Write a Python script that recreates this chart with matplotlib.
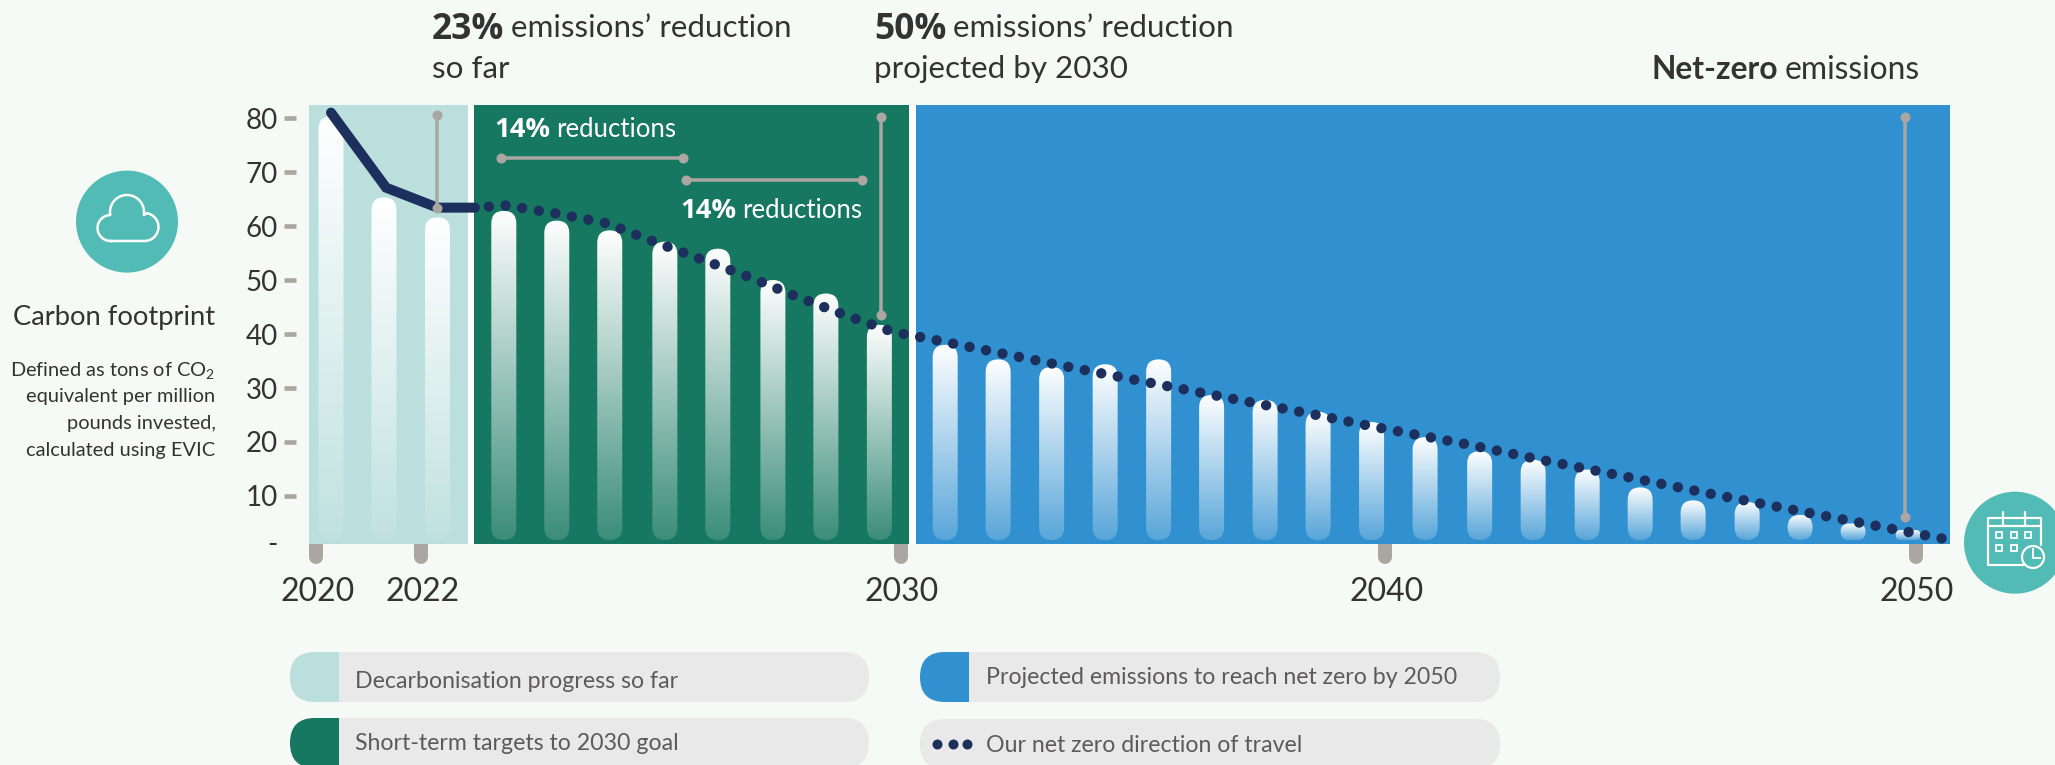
import numpy as np
import matplotlib
matplotlib.use("Agg")
import matplotlib.pyplot as plt
from matplotlib.patches import FancyBboxPatch, Circle, Rectangle

plt.rcParams['font.family'] = ['Lato', 'DejaVu Sans']
plt.rcParams['mathtext.default'] = 'regular'
plt.rcParams['lines.scale_dashes'] = False

# ---------- data ----------
progress_slots = [0.00, 0.99, 1.99]
progress_values = [80.3, 65.3, 61.6]
target_slots = [3.23, 4.22, 5.21, 6.24, 7.23, 8.26, 9.25, 10.25]
target_values = [62.8, 61.0, 59.2, 57.1, 55.8, 50.0, 47.5, 41.7]
projected_slots = [11.48, 12.47, 13.47, 14.47, 15.47, 16.46, 17.46, 18.45, 19.45, 20.45,
                   21.47, 22.47, 23.48, 24.47, 25.46, 26.47, 27.46, 28.45, 29.48]
projected_values = [38.0, 35.3, 33.9, 34.4, 35.3, 28.7, 27.8, 25.6, 23.7, 20.9,
                    18.3, 16.7, 14.9, 11.6, 9.2, 8.9, 6.5, 4.9, 3.7]
solid_x = [0.00, 1.03, 1.99, 2.69]
solid_y = [81.0, 67.1, 63.4, 63.4]
dotted_x = [2.95, 3.27, 4.22, 5.16, 6.04, 6.93, 7.83, 8.71, 9.61, 10.50, 11.14, 12.69,
            13.94, 15.50, 16.75, 18.32, 19.56, 21.12, 22.67, 24.24, 25.79, 27.30, 28.92, 30.18]
dotted_y = [63.6, 63.8, 62.3, 60.5, 57.1, 53.8, 50.5, 46.9, 43.5, 40.4, 39.2, 36.1,
            33.6, 30.6, 28.2, 25.2, 22.7, 19.8, 16.6, 13.5, 10.4, 7.5, 4.4, 2.0]
year_labels = ['2020', '2022', '2030', '2040', '2050']
year_slots = [-0.28, 1.69, 10.65, 19.70, 29.62]
y_tick_values = [1.3, 10, 20, 30, 40, 50, 60, 70, 80]
y_tick_labels = ['-', '10', '20', '30', '40', '50', '60', '70', '80']

BG = '#f6faf6'; LIGHT = '#bbdfdd'; GREEN = '#167860'; BLUE = '#3090d0'
NAVY = '#1d2f5c'; GREY = '#aba6a2'; TEAL = '#52bbb5'; DARK = '#333333'
PILL = '#e8e9e8'; LEG = '#5c5a5a'

W, H = 2055, 765
fig = plt.figure(figsize=(W/100, H/100), dpi=100, facecolor=BG)
ax = fig.add_axes([309/W, 1-544/H, (1950-309)/W, (544-105)/H])
ax.patch.set_visible(False)
XLIM = ((309-331)/53.5, (1950-331)/53.5)
YLIM = (1.11, 82.41)
PXX, PXY = 53.5, 5.4
def ux(px): return (px-331)/PXX
def lw(px): return px*0.72

# panels
ax.axvspan(ux(468), ux(916), color='white', lw=0, zorder=0.5)
ax.axvspan(ux(309), ux(468), color=LIGHT, lw=0, zorder=1)
ax.axvspan(ux(474), ux(909), color=GREEN, lw=0, zorder=1)
ax.axvspan(ux(916), ux(1950), color=BLUE, lw=0, zorder=1)

# x tick capsules (sit under the panels)
for s in year_slots:
    ax.plot([s, s], [3, -1.39], color=GREY, lw=lw(14), solid_capstyle='round', clip_on=False, zorder=0.2)

# gradient capsule bars
BOTTOM = 1.85
def bars(slots, values, a_bottom):
    for s, v in zip(slots, values):
        h_px = (v-BOTTOM)*PXY
        r_px = min(12.5, h_px/2)
        rx = r_px/PXX
        patch = FancyBboxPatch((s-12.5/PXX, BOTTOM), 25/PXX, v-BOTTOM,
                               boxstyle=f"round,pad=0,rounding_size={rx}",
                               mutation_aspect=PXX/PXY, transform=ax.transData,
                               fc='none', ec='none')
        ax.add_patch(patch)
        a = np.linspace(1, a_bottom, 256).reshape(-1, 1)
        rgba = np.ones((256, 1, 4)); rgba[..., 3] = a
        im = ax.imshow(rgba, extent=(s-0.3, s+0.3, BOTTOM, v), origin='upper',
                       aspect='auto', zorder=2, interpolation='bilinear')
        im.set_clip_path(patch)
bars(progress_slots, progress_values, 0.08)
bars(target_slots, target_values, 0.16)
bars(projected_slots, projected_values, 0.2)

# direction of travel
ax.plot(solid_x, solid_y, color=NAVY, lw=lw(10), solid_capstyle='round', solid_joinstyle='miter',
        zorder=4, clip_on=False)
ax.plot(dotted_x, dotted_y, color=NAVY, lw=lw(10.4), linestyle=(0, (0.01, 12.08)),
        dash_capstyle='round', zorder=4, clip_on=False)

# annotation rules
def rule(x0, y0, x1, y1):
    ax.plot([ux(x0), ux(x1)], [80-(y0-118)/PXY, 80-(y1-118)/PXY], color=GREY, lw=lw(3.5),
            marker='o', ms=lw(10), mew=0, zorder=5)
rule(437, 115, 437, 208)
rule(881, 117, 881, 315)
rule(1905, 117, 1905, 517)
rule(501, 158.4, 683, 158.4)
rule(685.6, 180, 861.6, 180)

ax.set_xlim(*XLIM); ax.set_ylim(*YLIM)
for sp in ax.spines.values():
    sp.set_visible(False)
ax.spines['left'].set_position(('outward', 13*0.72))
ax.set_yticks(y_tick_values, y_tick_labels)
ax.set_xticks([s+0.025 for s in year_slots], year_labels)
ax.tick_params(axis='y', length=12*0.72, width=4.6*0.72, color=GREY, pad=6*0.72, labelsize=20, labelcolor=DARK)
ax.tick_params(axis='x', length=0, pad=23.5, labelsize=23, labelcolor=DARK)
ax.yaxis.get_major_ticks()[0].tick1line.set_visible(False)

# overlay in pixel coordinates
ov = fig.add_axes([0, 0, 1, 1], zorder=10)
ov.set_xlim(0, W); ov.set_ylim(H, 0); ov.axis('off'); ov.patch.set_visible(False)
renderer = fig.canvas.get_renderer()

def runs(x, y, parts, size, color=DARK):
    for part in parts:
        txt, wt = part[0], part[1]
        fam = part[2] if len(part) > 2 else 'Lato'
        sz = part[3] if len(part) > 3 else size
        t = ov.text(x, y, txt, fontsize=sz, fontweight=wt, family=fam, color=color, ha='left', va='center_baseline')
        x = ov.transData.inverted().transform(t.get_window_extent(renderer))[1, 0]
        x += size*0.30

runs(432, 25.5, [('23%', 'bold', 'Open Sans', 25.5), ("emissions’ reduction", 'normal')], 22.6)
runs(432, 66.5, [('so far', 'normal')], 22.6)
runs(874, 25.5, [('50%', 'bold', 'Open Sans', 25.5), ("emissions’ reduction", 'normal')], 22.6)
runs(874, 66.5, [('projected by 2030', 'normal')], 22.6)
runs(1651, 66.5, [('Net-zero', 'bold'), ('emissions', 'normal')], 22.9)
runs(494, 127, [('14%', 'bold', 'Open Sans', 19.7), ('reductions', 'normal')], 18.5, 'white')
runs(680, 208, [('14%', 'bold', 'Open Sans', 19.7), ('reductions', 'normal')], 18.5, 'white')

ov.text(215.5, 314.5, 'Carbon footprint', fontsize=19.7, color=DARK, ha='right', va='center_baseline')
for yy, line in zip([368, 395, 422, 449],
                    ['Defined as tons of CO$_2$', 'equivalent per million', 'pounds invested,', 'calculated using EVIC']):
    ov.text(215.5, yy, line, fontsize=14.4, color=DARK, ha='right', va='center_baseline')

# cloud icon
ov.add_patch(Circle((127, 221.6), 51, fc=TEAL, ec='none'))
def arc(cx, cy, r, a0, a1):
    a = np.radians(np.linspace(a0, a1, 60))
    return cx+r*np.cos(a), cy-r*np.sin(a)
segs = [arc(110.5, 228, 13, 270, 95), arc(127, 212, 17, 190, -10), arc(144.5, 227, 14, 80, -90)]
cx = np.concatenate([s[0] for s in segs]+[[110.5]]); cy = np.concatenate([s[1] for s in segs]+[[241]])
ov.plot(cx, cy, color='white', lw=lw(2.5))

# calendar icon
ov.add_patch(Circle((2015, 542.7), 51, fc=TEAL, ec='none', clip_on=True))
wl = dict(color='white', lw=lw(2.2), solid_capstyle='round')
ov.plot([2024, 1988, 1988, 2022], [565, 565, 518, 518], **wl)
ov.plot([2022, 2041, 2041], [518, 518, 545], **wl)
ov.plot([1988, 2041], [525.5, 525.5], **wl)
for xx in (2003, 2025):
    ov.plot([xx, xx], [512, 525], **wl)
for xx, yy in [(1999, 535), (2014, 535), (2028, 535), (1999, 548), (2014, 548)]:
    ov.add_patch(Rectangle((xx-3, yy-3), 6, 6, fc='none', ec='white', lw=lw(1.8)))
ov.add_patch(Circle((2033, 557), 11, fc=TEAL, ec='white', lw=lw(2.2)))
ov.plot([2033, 2033, 2040], [549, 558, 558], color='white', lw=lw(2))

# legend pills
def pill(x0, x1, y0, y1, swatch=None):
    p = FancyBboxPatch((x0+25, y0+25), x1-x0-50, y1-y0-50, boxstyle="round,pad=25,rounding_size=25",
                       fc=PILL, ec='none', zorder=1)
    ov.add_patch(p)
    if swatch:
        r = Rectangle((x0, y0), 49, y1-y0, fc=swatch, ec='none', zorder=2)
        ov.add_patch(r)
        r.set_clip_path(p)
pill(290, 869, 652, 702, LIGHT)
pill(290, 869, 718, 768, GREEN)
pill(920, 1500, 652, 702, BLUE)
pill(920, 1500, 719, 769)
ov.scatter([937, 953, 967], [744, 744, 744], s=lw(10)**2, color=NAVY, lw=0, zorder=3)
for x, y, s in [(355, 680, 'Decarbonisation progress so far'), (355, 742, 'Short-term targets to 2030 goal'),
                (986, 676, 'Projected emissions to reach net zero by 2050'), (986, 743, 'Our net zero direction of travel')]:
    ov.text(x, y, s, fontsize=16.7, color=LEG, ha='left', va='center_baseline', zorder=4)

fig.savefig('out.png', dpi=100, facecolor=BG)
